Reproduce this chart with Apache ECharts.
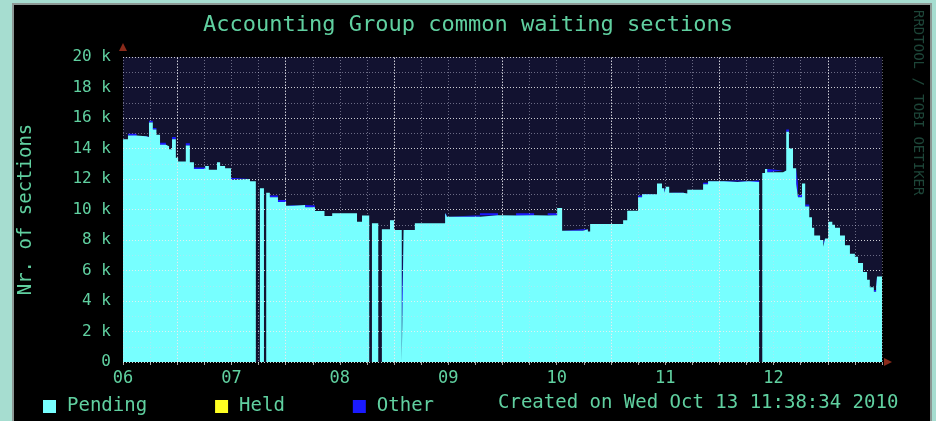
<!DOCTYPE html>
<html style="height: 100%; margin: 0; padding: 0;">
<head>
    <meta charset="utf-8">
    <title>Accounting Group common waiting sections</title>
    <script src="https://cdn.jsdelivr.net/npm/echarts@6/dist/echarts.min.js"></script>
    <style>
        body, html {
            width: 936px;
            height: 421px;
            margin: 0;
            padding: 0;
            overflow: hidden;
            background-color: #a6ddd0;
        }
        #frame {
            position: absolute;
            left: 12px;
            top: 3px;
            width: 916px;
            height: 430px;
            background: #000;
            border-left: 2px solid #8c9894;
            border-top: 2px solid #8c9894;
            border-right: 2px solid #8c9894;
        }
        #main {
            position: absolute;
            left: 0;
            top: 0;
            width: 936px;
            height: 421px;
        }
    </style>
</head>
<body>
<div id="frame"></div>
<div id="main"></div>
<script type="text/javascript">
    // hours since Oct 06 12:00 (step data)
    var hours = [0, 1.1, 3, 5.1, 5.75, 6.6, 7.4, 8.2, 9.5, 10.2, 10.85, 11.7, 12.2, 13.9, 14.8, 15.7,
        18.2, 19, 20.8, 21.5, 22.6, 23.9, 24.8, 28.1, 29.4, 30.3, 31.2, 31.7, 32.5, 34.3, 36.1, 37.6,
        40.3, 42.5, 44.6, 46.3, 51.8, 52.9, 54.5, 55.1, 56.5, 57.3, 59.1, 60, 61.7, 62.1, 64.6, 71.3,
        71.7, 79, 83, 87, 91, 94, 96.1, 97.2, 101.8, 102.9, 103.4, 107.4, 107.8, 110.7, 111.6, 114,
        114.9, 118.2, 119.3, 119.8, 120.2, 120.9, 124, 124.9, 128.4, 129.5, 133, 136, 138.5, 140.8,
        141.5, 142.1, 142.6, 146.1, 146.8, 147.4, 148.3, 149, 149.4, 150.3, 151, 151.9, 152.5, 153,
        154.3, 155, 155.4, 156.1, 157, 157.6, 158.7, 159.8, 160.9, 162, 162.7, 163.8, 164.7, 165.3,
        166.2, 166.7, 166.9, 168];
    var pending = [14600, 14850, 14800, 14750, 15700, 15250, 14900, 14250, 14150, 13950, 14600, 13400, 13150, 14200, 13100, 12650,
        12850, 12600, 13100, 12850, 12700, 11950, 12000, 11850, 0, 11400, 0, 11100, 10800, 10500, 10250, 10300,
        10150, 9900, 9580, 9750, 9200, 9600, 0, 9100, 0, 8700, 9300, 8650, 0, 8650, 9100, 9770,
        9530, 9630, 9600, 9630, 9600, 9630, 10100, 8600, 8700, 8550, 9050, 9150, 9050, 9300, 9920, 10800,
        11000, 11700, 11400, 11100, 11500, 11100, 11050, 11300, 11650, 11850, 11800, 11850, 11800, 0,
        12400, 12650, 12450, 12550, 15100, 14000, 12700, 11700, 10800, 11700, 10200, 9500, 8800, 8300,
        8000, 7550, 8100, 9200, 9000, 8800, 8300, 7650, 7100, 6900, 6500, 5900, 5400, 4900,
        4600, 4900, 5600, 5600];
    var held = [];
    var other = [0, 120, 0, 0, 120, 100, 0, 120, 0, 0, 150, 0, 0, 150, 0, 100,
        0, 0, 0, 0, 0, 120, 0, 0, 0, 0, 0, 0, 120, 120, 0, 0,
        120, 0, 0, 0, 0, 0, 0, 0, 0, 0, 0, 0, 0, 0, 0, 0,
        0, 120, 0, 120, 0, 120, 0, 0, 0, 0, 0, 0, 0, 0, 0, 120,
        0, 0, 0, 0, 0, 0, 0, 0, 100, 0, 100, 0, 100, 0,
        0, 0, 100, 0, 150, 0, 0, 0, 150, 0, 120, 0, 0, 0,
        0, 150, 0, 0, 0, 0, 0, 0, 0, 0, 0, 0, 0, 0,
        120, 0, 0, 0];
    var dayLabels = ['06', '07', '08', '09', '10', '11', '12'];
    var majorGridHours = [12, 36, 60, 84, 108, 132, 156];

    var txt = '#60d0a0';
    var mono = 'DejaVu Sans Mono';
    var minorGrid = { color: 'rgba(215,215,235,0.45)', type: [1, 2], width: 1 };
    var majorGrid = { color: 'rgba(240,240,240,0.85)', type: [1, 2], width: 1 };

    // value first so that the stack goes on the value dimension
    function pairs(vals) {
        return hours.map(function (h, i) { return [vals[i], h]; });
    }

    var myChart = echarts.init(document.getElementById('main'));

    var plotRect = { left: 123, right: 54, top: 57, bottom: 59 };

    var option = {
        backgroundColor: 'transparent',
        animation: false,
        title: {
            text: 'Accounting Group common waiting sections',
            left: 'center',
            top: 9,
            textStyle: { color: txt, fontFamily: mono, fontSize: 22, fontWeight: 'normal' }
        },
        legend: {
            left: 38,
            top: 392,
            icon: 'rect',
            itemWidth: 13,
            itemHeight: 13,
            itemGap: 68,
            data: ['Pending', 'Held', 'Other'],
            textStyle: { color: txt, fontFamily: mono, fontSize: 19, padding: [0, 0, 0, 6] }
        },
        grid: [
            Object.assign({ show: true, borderWidth: 0, backgroundColor: '#121230' }, plotRect),
            // overlay grid only for the dotted lines, above the areas
            Object.assign({ show: false, zlevel: 1, z: 10 }, plotRect)
        ],
        xAxis: [
            {
                type: 'value',
                gridIndex: 0,
                min: 0,
                max: 168,
                interval: 6,
                axisLine: { show: false },
                axisTick: { show: true, length: 3, lineStyle: { color: '#aaaaaa' } },
                axisLabel: {
                    color: txt, fontFamily: mono, fontSize: 17, margin: 8,
                    showMinLabel: true,
                    formatter: function (v) { return v % 24 === 0 && dayLabels[v / 24] ? dayLabels[v / 24] : ''; }
                },
                splitLine: { show: false }
            },
            {
                type: 'value',
                gridIndex: 1,
                min: 0,
                max: 168,
                interval: 6,
                zlevel: 1,
                z: 10,
                axisLine: { show: false },
                axisTick: { show: false },
                axisLabel: { show: false },
                splitLine: { show: true, lineStyle: minorGrid }
            }
        ],
        yAxis: [
            {
                type: 'value',
                gridIndex: 0,
                min: 0,
                max: 20000,
                interval: 2000,
                name: 'Nr. of sections',
                nameLocation: 'middle',
                nameGap: 87,
                nameRotate: 90,
                nameTextStyle: { color: txt, fontFamily: mono, fontSize: 19 },
                axisLine: { show: false },
                axisTick: { show: false },
                axisLabel: {
                    color: txt, fontFamily: mono, fontSize: 16, margin: 12,
                    formatter: function (v) { return v === 0 ? '0' : (v / 1000) + ' k'; }
                },
                splitLine: { show: false }
            },
            {
                type: 'value',
                gridIndex: 1,
                min: 0,
                max: 20000,
                interval: 2000,
                zlevel: 1,
                z: 10,
                axisLine: { show: false },
                axisTick: { show: false },
                axisLabel: { show: false },
                splitLine: { show: true, lineStyle: majorGrid },
                minorTick: { show: false, splitNumber: 2 },
                minorSplitLine: { show: true, lineStyle: minorGrid }
            }
        ],
        graphic: [
            {
                type: 'text', x: 498, y: 403,
                style: { text: 'Created on Wed Oct 13 11:38:34 2010', fill: txt, font: '19px "DejaVu Sans Mono"', textVerticalAlign: 'middle' }
            },
            {
                type: 'text', x: 918, y: 10, rotation: -Math.PI / 2,
                style: { text: 'RRDTOOL / TOBI OETIKER', fill: '#1d4538', font: '14px "DejaVu Sans Mono"', textVerticalAlign: 'middle' }
            },
            {
                type: 'polygon', z: 10,
                shape: { points: [[123, 43], [119, 51], [127, 51]] },
                style: { fill: '#8a2a1a' }
            },
            {
                type: 'polygon', z: 10,
                shape: { points: [[892, 362], [884, 358], [884, 366]] },
                style: { fill: '#8a2a1a' }
            }
        ],
        series: [
            {
                name: 'Pending',
                type: 'line',
                stack: 'total',
                step: 'end',
                showSymbol: false,
                z: 3,
                encode: { x: 1, y: 0 },
                itemStyle: { color: '#77ffff' },
                lineStyle: { width: 0 },
                areaStyle: { color: '#77ffff', opacity: 1 },
                data: pairs(pending)
            },
            {
                name: 'Held',
                type: 'line',
                step: 'end',
                showSymbol: false,
                itemStyle: { color: '#ffff22' },
                lineStyle: { width: 0 },
                areaStyle: { color: '#ffff22', opacity: 1 },
                data: held
            },
            {
                name: 'Other',
                type: 'line',
                stack: 'total',
                step: 'end',
                showSymbol: false,
                z: 2,
                encode: { x: 1, y: 0 },
                itemStyle: { color: '#1a1aff' },
                lineStyle: { width: 0 },
                areaStyle: { color: '#1a1aff', opacity: 1 },
                data: pairs(other)
            },
            {
                // daily major grid (midnight) drawn over the areas
                type: 'line',
                xAxisIndex: 1,
                yAxisIndex: 1,
                data: [],
                zlevel: 1,
                z: 11,
                silent: true,
                markLine: {
                    silent: true,
                    symbol: ['none', 'none'],
                    label: { show: false },
                    animation: false,
                    lineStyle: majorGrid,
                    data: majorGridHours.map(function (h) { return { xAxis: h }; })
                }
            }
        ]
    };

    myChart.setOption(option);
</script>
</body>
</html>
